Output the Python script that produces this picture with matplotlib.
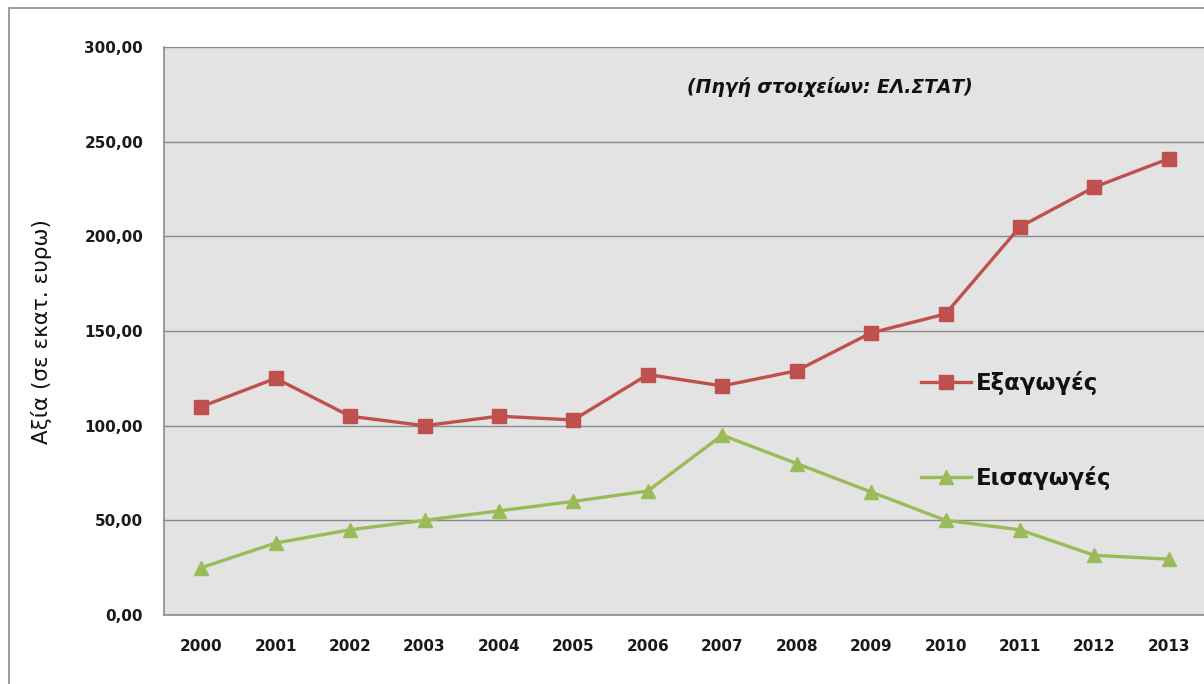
import matplotlib.pyplot as plt
from matplotlib.patches import Rectangle
from matplotlib.ticker import FuncFormatter

years = ['2000', '2001', '2002', '2003', '2004', '2005', '2006',
         '2007', '2008', '2009', '2010', '2011', '2012', '2013']
exports = [110, 125, 105, 100, 105, 103, 127, 121, 129, 149, 159, 205, 226, 241]
imports = [25, 38, 45, 50, 55, 60, 65.5, 95, 80, 65, 50, 45, 31.5, 29.5]

W, H = 1204, 684
fig = plt.figure(figsize=(W / 100, H / 100), dpi=100)
fig.patch.set_facecolor('white')

# outer chart frame (cut off on right/bottom like the screenshot)
fig.patches.append(Rectangle((9 / W, -0.05), 1.2, 1 - 8 / H + 0.05,
                             transform=fig.transFigure, fill=False,
                             edgecolor='#8c8c8c', linewidth=1.2))

ax = fig.add_axes([164 / W, 1 - 615 / H, (1206 - 164) / W, (615 - 47) / H])
ax.set_facecolor('#e3e3e3')

x = list(range(len(years)))
ax.plot(x, exports, color='#c0504d', linewidth=2.4, marker='s', markersize=9.5,
        label='Εξαγωγές', zorder=3)
ax.plot(x, imports, color='#9bbb59', linewidth=2.4, marker='^', markersize=10.5,
        label='Εισαγωγές', zorder=3)

ax.set_xlim(-0.5, len(years) - 0.5)
ax.set_ylim(0, 300)
ax.set_yticks(range(0, 301, 50))
ax.yaxis.set_major_formatter(FuncFormatter(lambda v, p: f'{v:.2f}'.replace('.', ',')))
ax.set_xticks(x)
ax.set_xticklabels(years)
ax.grid(axis='y', color='#8a8a8a', linewidth=1.0)
ax.set_axisbelow(True)
for s in ['top', 'right']:
    ax.spines[s].set_visible(False)
for s in ['left', 'bottom']:
    ax.spines[s].set_color('#8a8a8a')
    ax.spines[s].set_linewidth(1.2)
ax.tick_params(axis='both', length=0, labelsize=11, colors='#1a1a1a')
ax.tick_params(axis='y', pad=15)
ax.tick_params(axis='x', pad=17)
for lab in ax.get_xticklabels() + ax.get_yticklabels():
    lab.set_fontweight('bold')

fig.text(42 / W, 1 - 332 / H, 'Αξία (σε εκατ. ευρω)', rotation=90,
         ha='center', va='center', fontsize=15.5, color='#111111')

ax.text(830 / W, 1 - 87 / H, '(Πηγή στοιχείων: ΕΛ.ΣΤΑΤ)', transform=fig.transFigure,
        ha='center', va='center', fontsize=13.5, fontweight='bold',
        fontstyle='italic', color='#111111')

leg = ax.legend(loc='upper left', bbox_to_anchor=(900 / W, 1 - 350 / H),
                bbox_transform=fig.transFigure, frameon=False, fontsize=16.5,
                labelspacing=3.1, handlelength=2.2, handletextpad=0.2)
for t in leg.get_texts():
    t.set_fontweight('bold')
    t.set_color('#111111')

fig.savefig('out.png', dpi=100)
